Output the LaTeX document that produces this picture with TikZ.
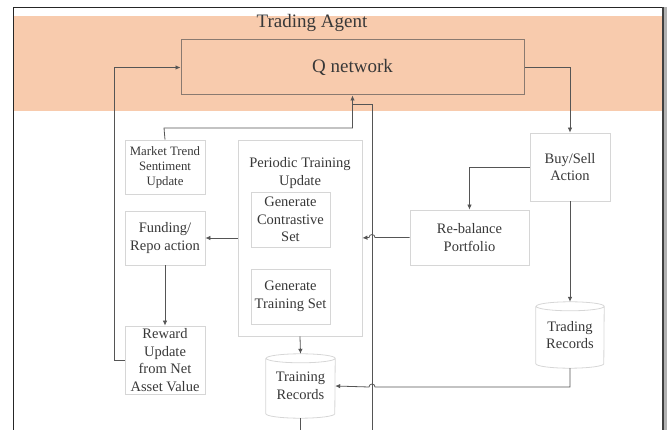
\documentclass[tikz,border=0pt]{standalone}
\usepackage{fontspec}
\setmainfont{Liberation Serif}
\usetikzlibrary{arrows.meta}
\definecolor{band}{HTML}{F8CBAD}
\definecolor{boxgray}{HTML}{D6D6D6}
\definecolor{qborder}{HTML}{8A7A70}
\definecolor{linegray}{HTML}{555555}
\definecolor{txt}{HTML}{383838}
\tikzset{
  box/.style={draw=boxgray, line width=0.8pt, rectangle, inner sep=0pt, align=center, text=txt,
    font=\fontsize{14.5}{17.5}\selectfont},
  smallbox/.style={box, font=\fontsize{12.8}{15}\selectfont},
  cylnode/.style={rectangle, inner sep=0pt, align=center, text=txt, font=\fontsize{14.5}{17.5}\selectfont},
  conn/.style={draw=linegray, line width=0.8pt},
  arr/.style={conn, -{Latex[length=5pt,width=4.5pt]}},
}
\begin{document}
\begin{tikzpicture}[x=1pt,y=-1pt]
\useasboundingbox (0,0) rectangle (667,430);
% frame and band
\fill[band] (13,16) rectangle (663,111);
\draw[black!85, line width=1pt] (13,430) -- (13,7.5) -- (663,7.5);
\fill[gray!60] (664,7.5) rectangle (667,430);
\draw[black!75, line width=1.2pt] (663,7.5) -- (663,430);

\node[text=txt, font=\fontsize{19}{22}\selectfont] (title) at (312,23) {Trading Agent};
\node[draw=qborder, line width=1pt, minimum width=343pt, minimum height=55pt, inner sep=0pt,
  text=txt, font=\fontsize{19}{22}\selectfont] (q) at (352.5,67.5) {Q network};

% left column
\node[smallbox, minimum width=80pt, minimum height=54pt] (market) at (165,167) {Market Trend\\Sentiment\\Update};
\node[box, minimum width=80pt, minimum height=54pt] (fund) at (165,238) {Funding/\\Repo action};
\node[box, minimum width=80pt, minimum height=68pt] (reward) at (165,360) {Reward\\Update\\from Net\\Asset Value};

% periodic training
\node[box, minimum width=124pt, minimum height=196pt] (periodic) at (300,238) {};
\node[text=txt, align=center, font=\fontsize{14.5}{17.5}\selectfont] (ptitle) at (300,173) {Periodic Training\\Update};
\node[box, minimum width=79pt, minimum height=55pt] (genc) at (290.5,219.5) {Generate\\Contrastive\\Set};
\node[box, minimum width=79pt, minimum height=55pt] (gent) at (290.5,296.5) {Generate\\Training Set};

% right column
\node[box, minimum width=80pt, minimum height=68pt] (buy) at (570,167) {Buy/Sell\\Action};
\node[box, minimum width=119pt, minimum height=55pt] (rebal) at (469.5,237.5) {Re-balance\\Portfolio};

% cylinders
\node[cylnode, minimum width=68pt, minimum height=66pt] (trade) at (570,335) {Trading\\Records};
\node[cylnode, minimum width=69pt, minimum height=64pt] (train) at (300.5,386) {Training\\Records};
\foreach \n/\r in {trade/34pt, train/34.5pt}{
  \draw[draw=boxgray, line width=0.8pt]
    ([yshift=-4.5pt]\n.north west) -- ([yshift=4.5pt]\n.south west)
    arc[start angle=180, end angle=360, x radius=\r, y radius=4.5pt]
    -- ([yshift=-4.5pt]\n.north east)
    arc[start angle=0, end angle=180, x radius=\r, y radius=4.5pt]
    arc[start angle=180, end angle=360, x radius=\r, y radius=4.5pt];
}

% helper coordinates
\coordinate (feedx) at (114,0);
\coordinate (mkup) at (164,128);
\coordinate (vbot) at (372,430);
\coordinate (vtop) at (372,104);
\coordinate (vjoin) at (352.5,104);
\coordinate (hop1) at (375,237.5);
\coordinate (hop2) at (375,387);
\coordinate (trbend) at (570,387);
\coordinate (trbot) at (300.5,430);

% connectors
\draw[arr] (q.east) -| (buy.north);
\draw[arr] (buy.west) -| (rebal.north);
\draw[arr] (rebal.west) -- (hop1) arc[start angle=0, end angle=180, radius=3pt] -- (periodic.east);
\draw[arr] (buy.south) -- (trade.north);
\draw[arr] (trade.south) -- (trbend) -- (hop2) arc[start angle=0, end angle=180, radius=3pt] -- (train.east);
\draw[arr] (periodic.west) -- (fund.east);
\draw[arr] (fund.south) -- (reward.north);
\draw[arr] (reward.west) -- (reward.west -| feedx) |- (q.west);
\draw[arr] (market.north) -- (mkup) -| (q.south);
\draw[conn] (vbot) -- (vtop) -- (vjoin);
\draw[arr] (periodic.south) -- (train.north);
\draw[conn] (train.south) -- (trbot);
\end{tikzpicture}
\end{document}
